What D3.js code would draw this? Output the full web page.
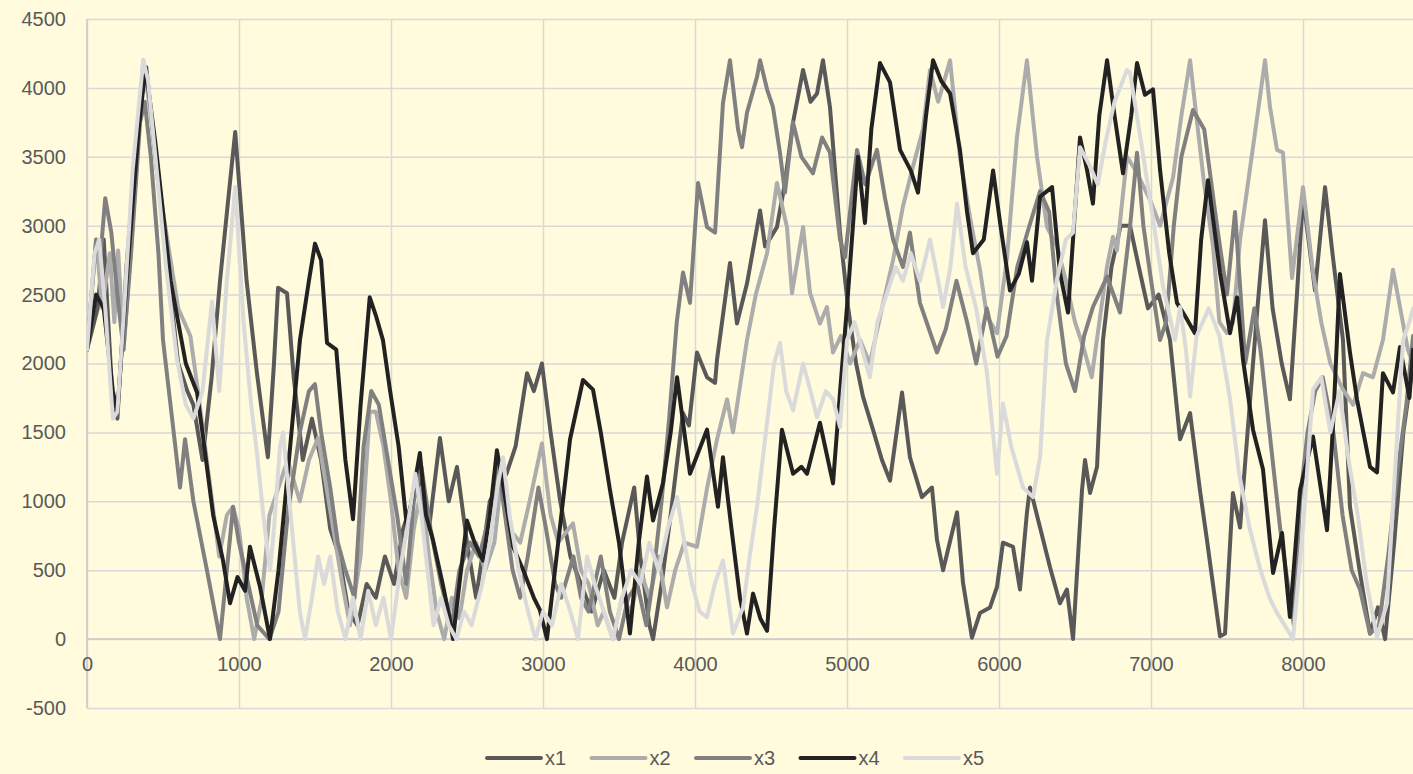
<!DOCTYPE html>
<html lang="en">
<head>
<meta charset="utf-8">
<title>x1-x5</title>
<script src="https://d3js.org/d3.v7.min.js"></script>
<style>
  html, body { margin: 0; padding: 0; background: #fffbdc; }
  svg { display: block; font-family: "Liberation Sans", Arial, sans-serif; }
</style>
</head>
<body>
<div id="viz"></div>
<script>
// series values as [hour, value]
var x1 = [[0,2100],[70,2400],[110,2900],[170,1700],[200,1600],[260,2700],[340,3800],[390,4150],[440,3600],[500,3000],[560,2400],[600,2000],[660,1800],[700,1700],[760,1300],[820,1900],[875,2600],[930,3200],[975,3680],[1050,2600],[1118,1930],[1190,1320],[1230,2000],[1257,2550],[1316,2510],[1360,1900],[1420,1300],[1480,1600],[1540,1300],[1600,800],[1660,600],[1720,200],[1780,100],[1840,400],[1900,300],[1960,600],[2020,400],[2080,800],[2140,1000],[2190,1150],[2250,800],[2322,1460],[2380,1000],[2434,1250],[2500,700],[2560,300],[2600,600],[2650,1000],[2700,1100],[2760,1200],[2820,1400],[2895,1930],[2940,1800],[2993,2000],[3050,1500],[3112,1010],[3180,600],[3250,400],[3320,200],[3400,500],[3470,300],[3520,700],[3560,900],[3600,1100],[3640,600],[3700,100],[3724,0],[3780,400],[3840,900],[3921,1640],[3960,1550],[4013,2080],[4079,1900],[4132,1860],[4145,2030],[4230,2730],[4276,2290],[4342,2580],[4428,3110],[4461,2850],[4539,2990],[4590,3300],[4645,3750],[4711,4130],[4760,3900],[4803,3960],[4842,4200],[4888,3860],[4954,2950],[5007,2410],[5060,2000],[5105,1760],[5171,1520],[5230,1300],[5283,1150],[5362,1790],[5414,1320],[5493,1030],[5559,1100],[5592,720],[5632,500],[5724,920],[5763,410],[5822,10],[5875,190],[5941,230],[5987,380],[6026,700],[6092,670],[6138,360],[6184,920],[6204,1100],[6270,810],[6336,520],[6401,260],[6447,360],[6487,0],[6546,1080],[6566,1300],[6599,1060],[6645,1250],[6684,2170],[6740,2700],[6800,3000],[6862,3000],[6920,2700],[6980,2400],[7050,2500],[7125,2170],[7191,1450],[7257,1640],[7322,1080],[7368,720],[7454,20],[7487,40],[7539,1060],[7586,810],[7638,1540],[7700,2400],[7750,3040],[7800,2400],[7860,2000],[7914,1740],[7960,2500],[8000,3210],[8079,2530],[8145,3280],[8197,2770],[8263,2170],[8309,960],[8375,480],[8441,40],[8493,230],[8540,0],[8600,700],[8660,1500],[8724,2000]];

var x2 = [[0,2100],[60,2900],[100,2400],[150,2800],[180,2300],[205,2820],[240,2100],[300,3000],[370,4200],[420,3800],[500,3100],[600,2400],[680,2200],[730,1800],[800,1200],[870,600],[920,900],[960,960],[1000,800],[1050,300],[1100,0],[1150,300],[1200,900],[1260,1100],[1320,1300],[1400,1000],[1460,1300],[1520,1460],[1560,1200],[1620,800],[1680,400],[1730,100],[1800,600],[1860,1650],[1900,1650],[1950,1400],[2000,1000],[2050,500],[2100,300],[2150,800],[2200,1100],[2250,600],[2300,200],[2350,0],[2400,300],[2450,150],[2500,500],[2560,700],[2620,500],[2680,700],[2730,1200],[2780,800],[2850,700],[2914,1010],[2993,1420],[3050,900],[3100,700],[3197,840],[3250,500],[3300,400],[3360,100],[3400,200],[3460,0],[3520,300],[3580,200],[3640,500],[3700,300],[3760,600],[3816,230],[3870,500],[3930,700],[4013,670],[4080,1100],[4145,1450],[4211,1740],[4250,1500],[4342,2170],[4400,2500],[4474,2800],[4539,3310],[4605,2990],[4638,2510],[4711,2990],[4757,2510],[4822,2290],[4868,2410],[4908,2080],[4960,2200],[5020,2000],[5086,2170],[5150,2000],[5230,2400],[5303,2750],[5368,3140],[5434,3430],[5500,3700],[5546,4130],[5600,3900],[5678,4200],[5743,3500],[5809,3060],[5875,2680],[5921,2340],[5987,2220],[6053,2770],[6118,3640],[6184,4200],[6250,3500],[6316,2990],[6382,2850],[6440,2600],[6500,2300],[6560,2100],[6610,1900],[6660,2300],[6710,2700],[6750,2920],[6776,2820],[6842,3500],[6900,3400],[6993,3190],[7060,3000],[7145,3350],[7200,3800],[7257,4200],[7303,3750],[7350,3300],[7408,2850],[7450,2300],[7500,2220],[7540,2300],[7586,2900],[7632,3260],[7700,3800],[7750,4200],[7783,3860],[7829,3550],[7868,3530],[7928,2620],[8000,3280],[8066,2660],[8120,2300],[8180,2000],[8263,1810],[8330,1700],[8395,1930],[8460,1900],[8526,2170],[8592,2680],[8638,2410],[8690,2100],[8724,2000]];

var x3 = [[0,2100],[60,2900],[90,2800],[120,3200],[160,2950],[200,2500],[240,2100],[290,2800],[349,3750],[380,3900],[420,3500],[470,2800],[500,2170],[560,1600],[612,1100],[645,1450],[700,1000],[789,500],[875,0],[920,500],[961,960],[1000,700],[1060,400],[1120,100],[1200,0],[1260,200],[1320,900],[1400,1500],[1460,1800],[1500,1850],[1540,1500],[1600,1100],[1650,700],[1700,500],[1760,300],[1820,1400],[1870,1800],[1920,1700],[1980,1300],[2040,900],[2100,400],[2150,1000],[2200,1250],[2260,800],[2330,400],[2400,100],[2450,500],[2520,700],[2580,600],[2650,900],[2700,1300],[2750,900],[2800,500],[2850,300],[2900,600],[2970,1100],[3020,800],[3080,400],[3120,300],[3200,600],[3250,300],[3300,200],[3380,600],[3440,200],[3500,0],[3560,300],[3620,400],[3680,100],[3720,400],[3780,1000],[3830,1600],[3880,2300],[3921,2660],[3967,2440],[4020,3310],[4079,2990],[4132,2950],[4184,3890],[4230,4200],[4283,3700],[4309,3570],[4342,3820],[4408,4080],[4428,4200],[4474,3990],[4513,3860],[4559,3530],[4592,3240],[4645,3750],[4700,3500],[4776,3380],[4836,3640],[4888,3530],[4954,2900],[4987,2770],[5030,3200],[5066,3550],[5120,3300],[5197,3550],[5250,3200],[5303,2900],[5368,2700],[5414,2950],[5480,2440],[5592,2080],[5650,2250],[5720,2600],[5790,2300],[5850,2000],[5920,2400],[5990,2050],[6050,2200],[6120,2700],[6200,3000],[6270,3250],[6330,3100],[6380,2500],[6440,2000],[6500,1800],[6560,2200],[6618,2410],[6711,2630],[6796,2370],[6862,2990],[6908,3530],[6950,3000],[6993,2660],[7059,2170],[7100,2300],[7150,3000],[7200,3500],[7276,3840],[7350,3700],[7434,3000],[7500,2500],[7553,3100],[7620,2000],[7680,2400],[7720,2100],[7780,1500],[7850,800],[7900,400],[7940,100],[7980,1000],[8030,1500],[8080,1800],[8130,1900],[8200,1500],[8260,900],[8320,500],[8375,360],[8441,40],[8500,100],[8560,600],[8620,1200],[8680,1700],[8724,2200]];

var x4 = [[0,2100],[60,2500],[110,2400],[170,1800],[200,1650],[260,2600],[340,3700],[385,4150],[450,3600],[550,2600],[650,2000],[724,1790],[763,1470],[830,900],[895,570],[941,260],[990,450],[1040,350],[1072,670],[1138,380],[1204,0],[1260,500],[1316,1150],[1401,2170],[1460,2600],[1500,2870],[1540,2750],[1579,2150],[1640,2100],[1700,1300],[1750,870],[1800,1700],[1860,2480],[1900,2350],[1947,2170],[1993,1810],[2050,1400],[2105,810],[2190,1350],[2230,900],[2276,720],[2340,400],[2388,140],[2408,0],[2450,400],[2500,860],[2550,700],[2605,570],[2650,900],[2697,1370],[2740,1100],[2803,670],[2870,500],[2940,300],[2980,210],[3026,0],[3100,700],[3178,1450],[3263,1880],[3329,1810],[3380,1500],[3441,1080],[3500,700],[3572,40],[3630,700],[3684,1180],[3724,860],[3789,1130],[3840,1500],[3882,1900],[3930,1500],[3967,1200],[4020,1350],[4079,1520],[4151,960],[4184,1320],[4240,800],[4296,300],[4342,40],[4382,330],[4430,150],[4474,60],[4520,800],[4572,1520],[4645,1200],[4700,1250],[4737,1200],[4822,1570],[4908,1130],[4954,1790],[5000,2410],[5072,3500],[5118,3020],[5160,3700],[5217,4180],[5283,4040],[5349,3550],[5420,3400],[5467,3240],[5520,3800],[5566,4200],[5620,4050],[5678,3960],[5743,3550],[5790,3100],[5829,2800],[5900,2900],[5961,3400],[6010,3000],[6072,2530],[6130,2650],[6184,2880],[6217,2600],[6270,3210],[6349,3280],[6401,2660],[6454,2370],[6533,3640],[6580,3400],[6618,3160],[6660,3800],[6711,4200],[6760,3800],[6816,3380],[6870,3800],[6908,4180],[6960,3950],[7013,3990],[7060,3400],[7120,2800],[7171,2440],[7237,2320],[7289,2220],[7330,2900],[7375,3330],[7454,2660],[7520,2220],[7566,2480],[7605,2030],[7671,1520],[7737,1230],[7803,480],[7862,770],[7914,160],[7980,1080],[8066,1470],[8158,790],[8200,1600],[8243,2650],[8309,2080],[8355,1740],[8441,1250],[8487,1210],[8526,1930],[8592,1790],[8638,2120],[8700,1750],[8724,2100]];

var x5 = [[0,2100],[50,2800],[80,2900],[120,2400],[170,1600],[200,1650],[250,2500],[300,3400],[370,4200],[401,4060],[450,3500],[520,2700],[592,2030],[650,1700],[700,1600],[760,1800],[822,2450],[870,1800],[920,2600],[975,3280],[1030,2300],[1080,1700],[1118,1350],[1160,900],[1204,500],[1230,800],[1270,1400],[1290,1500],[1340,900],[1400,200],[1434,0],[1480,300],[1520,600],[1560,400],[1600,600],[1650,200],[1700,0],[1750,300],[1800,0],[1850,350],[1900,100],[1950,300],[2000,0],[2060,500],[2120,900],[2160,1200],[2200,900],[2240,500],[2280,100],[2330,300],[2380,100],[2430,0],[2480,200],[2530,100],[2600,400],[2650,700],[2700,1100],[2737,1320],[2780,900],[2840,500],[2895,230],[2950,0],[3000,200],[3060,100],[3120,400],[3180,200],[3230,0],[3290,600],[3340,400],[3400,200],[3460,0],[3520,300],[3580,500],[3640,400],[3700,700],[3760,500],[3820,800],[3882,1030],[3930,700],[3980,400],[4030,200],[4079,160],[4130,400],[4184,570],[4250,40],[4316,230],[4360,600],[4408,960],[4474,1570],[4520,2000],[4559,2150],[4600,1800],[4645,1660],[4711,2000],[4760,1800],[4803,1610],[4860,1800],[4908,1740],[4954,1540],[5000,2170],[5050,2300],[5100,2100],[5150,1900],[5200,2300],[5260,2500],[5320,2700],[5368,2600],[5420,2800],[5480,2600],[5546,2900],[5600,2600],[5632,2410],[5680,2700],[5724,3160],[5780,2700],[5850,2400],[5921,1930],[5987,1200],[6026,1710],[6080,1400],[6158,1100],[6224,1030],[6270,1320],[6316,2170],[6380,2600],[6440,2900],[6487,2950],[6533,3570],[6599,3430],[6650,3300],[6700,3600],[6760,3900],[6842,4130],[6862,4110],[6950,3500],[7020,3000],[7079,2560],[7158,2170],[7191,2410],[7230,2100],[7257,1760],[7300,2200],[7380,2400],[7450,2200],[7520,1740],[7580,1200],[7650,800],[7720,500],[7780,300],[7829,190],[7880,100],[7934,0],[8000,810],[8066,1810],[8120,1900],[8180,1500],[8240,1800],[8300,1300],[8360,900],[8420,400],[8487,15],[8553,260],[8618,1450],[8658,2170],[8700,2300],[8724,2400]];

var seriesNames = ["x1", "x2", "x3", "x4", "x5"];
var seriesColors = ["#595959", "#acacac", "#808080", "#222222", "#dadada"];
var yTicks = [-500, 0, 500, 1000, 1500, 2000, 2500, 3000, 3500, 4000, 4500];
var xTicks = [0, 1000, 2000, 3000, 4000, 5000, 6000, 7000, 8000];

var W = 1413, H = 774;
var padLeft = 87, padTop = 19, padBottom = 708;

var svg = d3.select("#viz").append("svg")
    .attr("width", W)
    .attr("height", H);

svg.append("rect").attr("width", W).attr("height", H).attr("fill", "#fffbdc");

var x = d3.scaleLinear().domain([0, 8760]).range([padLeft, padLeft + 8760 * 0.152]);
var y = d3.scaleLinear().domain([-500, 4500]).range([padBottom, padTop]);

// plain numbers with a hyphen for the minus sign
var plain = function(d) { return String(d); };

// horizontal grid
svg.append("g")
    .attr("transform", "translate(" + padLeft + ",0)")
    .call(d3.axisLeft(y).tickValues(yTicks).tickSize(-(W - padLeft)).tickFormat(""))
    .call(function(g) {
      g.select(".domain").remove();
      g.selectAll("line").attr("stroke", "#d9d9d9").attr("stroke-width", 1.5);
    });

// vertical grid
svg.append("g")
    .attr("transform", "translate(0," + padBottom + ")")
    .call(d3.axisBottom(x).tickValues(xTicks).tickSize(-(padBottom - padTop)).tickFormat(""))
    .call(function(g) {
      g.select(".domain").remove();
      g.selectAll("line").attr("stroke", "#d9d9d9").attr("stroke-width", 1.5);
    });

// left axis line
svg.append("line")
    .attr("x1", padLeft).attr("x2", padLeft)
    .attr("y1", padTop).attr("y2", padBottom)
    .attr("stroke", "#c8c8c8").attr("stroke-width", 1.5);

// horizontal axis at zero
svg.append("line")
    .attr("x1", padLeft).attr("x2", W)
    .attr("y1", y(0)).attr("y2", y(0))
    .attr("stroke", "#c8c8c8").attr("stroke-width", 1.5);

// y labels
svg.append("g")
    .attr("transform", "translate(" + padLeft + ",0)")
    .call(d3.axisLeft(y).tickValues(yTicks).tickSize(0).tickPadding(21).tickFormat(plain))
    .call(function(g) {
      g.select(".domain").remove();
      g.selectAll("text")
        .attr("fill", "#595959")
        .style("font-size", "20px")
        .style("font-family", "'Liberation Sans', Arial, sans-serif");
    });

// x labels, hanging under the zero line
svg.append("g")
    .attr("transform", "translate(0," + y(0) + ")")
    .call(d3.axisBottom(x).tickValues(xTicks).tickSize(0).tickPadding(18).tickFormat(plain))
    .call(function(g) {
      g.select(".domain").remove();
      g.selectAll("text")
        .attr("fill", "#595959")
        .style("font-size", "20px")
        .style("font-family", "'Liberation Sans', Arial, sans-serif");
    });

var line = d3.line()
    .x(function(d) { return x(d[0]); })
    .y(function(d) { return y(d[1]); });

var data = [x1, x2, x3, x4, x5];

svg.append("defs").append("clipPath").attr("id", "plot")
  .append("rect").attr("x", padLeft).attr("y", 0).attr("width", W - padLeft).attr("height", padBottom);

svg.append("g").attr("clip-path", "url(#plot)")
  .selectAll("path")
  .data(data)
  .enter()
  .append("path")
    .attr("d", line)
    .attr("fill", "none")
    .attr("stroke", function(d, i) { return seriesColors[i]; })
    .attr("stroke-width", 4)
    .attr("stroke-linejoin", "round")
    .attr("stroke-linecap", "round");

// legend
var legend = svg.append("g").attr("transform", "translate(487,758)");
var item = legend.selectAll("g")
    .data(seriesNames)
    .enter()
    .append("g")
    .attr("transform", function(d, i) { return "translate(" + (i * 104.5) + ",0)"; });

item.append("line")
    .attr("x1", 0).attr("x2", 54)
    .attr("y1", 0).attr("y2", 0)
    .attr("stroke", function(d, i) { return seriesColors[i]; })
    .attr("stroke-width", 4)
    .attr("stroke-linecap", "round");

item.append("text")
    .attr("x", 58)
    .attr("y", 7)
    .attr("fill", "#595959")
    .style("font-size", "20px")
    .text(function(d) { return d; });
</script>
</body>
</html>
